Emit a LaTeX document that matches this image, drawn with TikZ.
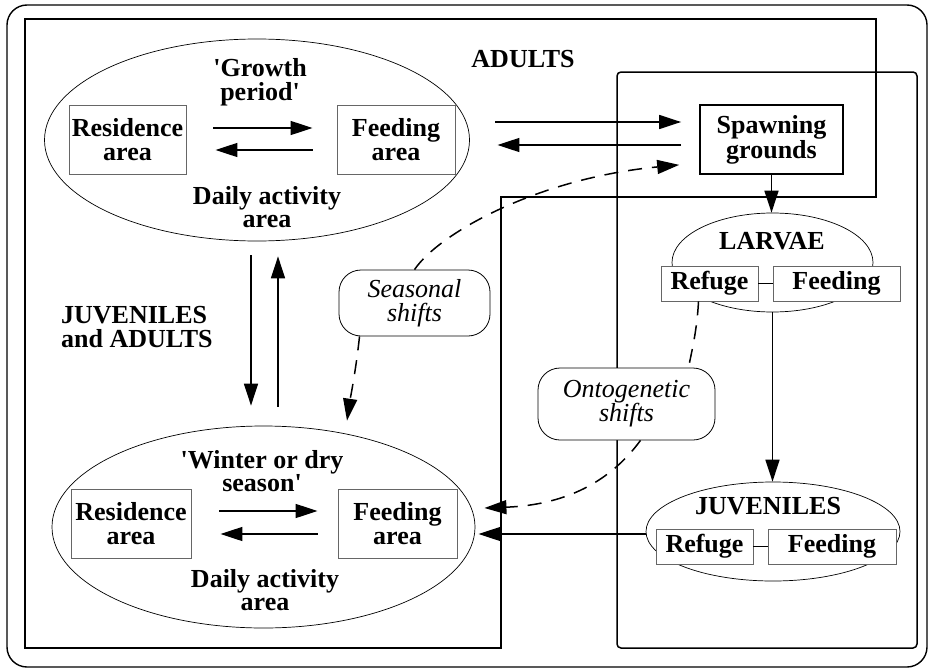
\documentclass[tikz,border=0pt]{standalone}
\usepackage{fontspec}
\newfontfamily\figfont{Liberation Serif}
\usetikzlibrary{shapes.geometric,arrows.meta}

\begin{document}
\begin{tikzpicture}[x=1pt,y=1pt,yscale=-1,xscale=1,
  every node/.style={inner sep=0pt, align=center, font=\figfont\bfseries\fontsize{26}{23.5}\selectfont},
  areabox/.style={draw=black!60, line width=0.9pt, fill=white, minimum height=69pt},
  stagebox/.style={draw=black!60, line width=0.9pt, fill=white, minimum height=35pt},
  zone/.style={draw, ellipse, line width=0.7pt},
  shiftbox/.style={draw, line width=0.8pt, fill=white, rounded corners=22pt, font=\figfont\itshape\fontsize{26}{24}\selectfont},
  arr/.style={line width=1.5pt, -{Triangle[length=22pt,width=14pt]}},
  darr/.style={arr, dash pattern=on 14pt off 10pt}
]
\useasboundingbox (0,0) rectangle (931,669);

%Shape: Rounded Rect [outer frame]
\draw[line width=1.4pt, rounded corners=20pt] (7,5) rectangle (927,667);
%Shape: Polygon [adults]
\draw[line width=1.3pt] (25,19) -- (876,19) -- (876,197) -- (501,197) -- (501,648) -- (25,648) -- cycle;
%Shape: Polygon [larvae and juveniles]
\draw[line width=1.5pt, rounded corners=4pt] (617,648) -- (617,72) -- (917,72) -- (917,648) -- cycle;

%Shape: Ellipse
\node[zone, minimum width=425pt, minimum height=202pt] (grow) at (257,140) {};
%Shape: Ellipse
\node[zone, minimum width=423pt, minimum height=202pt] (wint) at (263.5,527) {};
%Shape: Ellipse
\node[zone, minimum width=201pt, minimum height=99pt] (larv) at (772.5,262.5) {};
%Shape: Ellipse
\node[zone, minimum width=254pt, minimum height=99pt] (juv) at (773,531.5) {};

% Boxes
\node[areabox, minimum width=117pt] (res1) at (127.5,139.5) {Residence\\area};
\node[areabox, minimum width=118pt] (feed1) at (396,139.5) {Feeding\\area};
\node[areabox, minimum width=120pt] (res2) at (131,523.5) {Residence\\area};
\node[areabox, minimum width=119pt] (feed2) at (397.5,523.5) {Feeding\\area};
\node[draw, line width=1.8pt, minimum width=143pt, minimum height=69pt] (spawn) at (771.5,139.5) {Spawning\\grounds};
\node[stagebox, minimum width=97pt] (lref) at (709.5,283.5) {Refuge};
\node[stagebox, minimum width=127pt] (lfeed) at (836.5,283.5) {Feeding};
\node[stagebox, minimum width=97pt] (jref) at (704.5,546.5) {Refuge};
\node[stagebox, minimum width=128pt] (jfeed) at (832,546.5) {Feeding};
\draw[line width=1.5pt] (lref) -- (lfeed);
\draw[line width=1.5pt] (jref) -- (jfeed);

% Text Node
\node (adults) at (523,59) {ADULTS};
% Text Node
\node (growlbl) at (260,82) {'Growth\\period'};
% Text Node
\node (daily1) at (267,207) {Daily activity\\area};
% Text Node
\node (wintlbl) at (262,471) {'Winter or dry\\season'};
% Text Node
\node (daily2) at (265,590) {Daily activity\\area};
% Text Node
\node[anchor=west, align=left] (juvad) at (61,327) {JUVENILES\\and ADULTS};
% Text Node
\node (larvlbl) at (772,241) {LARVAE};
% Text Node
\node (juvlbl) at (768,506) {JUVENILES};

%Shape: Rounded Rect
\node[shiftbox, minimum width=151pt, minimum height=66pt] (seas) at (414.5,303) {Seasonal\\shifts};
%Shape: Rounded Rect
\node[shiftbox, minimum width=177pt, minimum height=72pt] (onto) at (626.5,404) {Ontogenetic\\shifts};

% daily moves
\draw[arr, shorten <=27pt, shorten >=24pt] ([yshift=-11.5pt]res1.east) -- ([yshift=-11.5pt]feed1.west);
\draw[arr, shorten <=24pt, shorten >=29pt] ([yshift=10.5pt]feed1.west) -- ([yshift=10.5pt]res1.east);
\draw[arr, shorten <=28pt, shorten >=20pt] ([yshift=-12.5pt]res2.east) -- ([yshift=-12.5pt]feed2.west);
\draw[arr, shorten <=20pt, shorten >=29pt] ([yshift=10.5pt]feed2.west) -- ([yshift=10.5pt]res2.east);

% seasonal moves
\draw[arr, shorten <=14pt, shorten >=20pt] ([xshift=-6pt]grow.south) -- ([xshift=-12.5pt]wint.north);
\draw[arr, shorten <=19pt, shorten >=15pt] ([xshift=14.5pt]wint.north) -- ([xshift=21pt]grow.south);
\draw[arr, shorten <=40pt, shorten >=18pt] ([yshift=-17.5pt]feed1.east) -- ([yshift=-17.5pt]spawn.west);
\draw[arr, shorten <=18pt, shorten >=42pt] ([yshift=5.5pt]spawn.west) -- ([yshift=5.5pt]feed1.east);
\draw[darr, shorten >=20pt] (seas.north) .. controls (440,232) and (540,178) .. ([yshift=23.5pt]spawn.west);
\draw[darr] ([xshift=-55pt]seas.south) .. controls (356,370) and (350,400) .. ([xshift=83.5pt,yshift=-5pt]wint.north);

% ontogenetic moves
\draw[arr] (spawn.south) -- (spawn.south |- larv.north);
\draw[arr] (larv.south) -- (larv.south |- juv.north);
\draw[arr, shorten >=21pt] ([yshift=2.5pt]juv.west) -- ([yshift=10.5pt]feed2.east);
\draw[line width=1.5pt, dash pattern=on 14pt off 10pt] ([xshift=-11pt]lref.south) .. controls (697,330) and (692,350) .. ([xshift=62pt]onto.north);
\draw[darr, shorten >=27pt] ([xshift=14pt]onto.south) .. controls (610,482) and (565,505) .. ([yshift=-14.5pt]feed2.east);
\end{tikzpicture}
\end{document}
